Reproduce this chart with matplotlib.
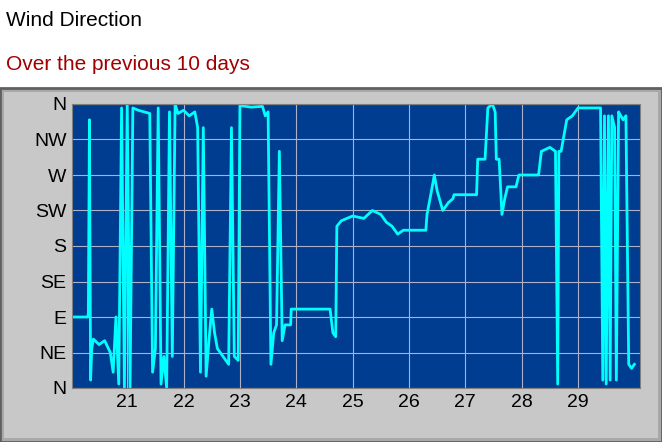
import matplotlib
matplotlib.use('Agg')
import matplotlib.pyplot as plt
from matplotlib.patches import Rectangle

plt.rcParams['font.family'] = ['Liberation Sans', 'DejaVu Sans']

# time in days, direction in degrees
days = [20.02, 20.30, 20.31, 20.33, 20.35, 20.37, 20.40, 20.50, 20.60, 20.70, 20.75, 20.80, 20.85,
        20.90, 20.95, 21.00, 21.05, 21.10, 21.20, 21.30, 21.40, 21.45, 21.50, 21.55, 21.60, 21.65,
        21.70, 21.75, 21.80, 21.85, 21.90, 22.00, 22.10, 22.20, 22.25, 22.30, 22.35, 22.40, 22.45,
        22.50, 22.55, 22.60, 22.70, 22.80, 22.85, 22.90, 22.97, 23.00, 23.20, 23.40, 23.45, 23.50,
        23.55, 23.60, 23.65, 23.70, 23.75, 23.80, 23.90, 23.91, 24.60, 24.65, 24.70, 24.72, 24.80,
        25.00, 25.20, 25.35, 25.50, 25.60, 25.70, 25.80, 25.90, 26.00, 26.30, 26.32, 26.40, 26.45,
        26.50, 26.60, 26.70, 26.78, 26.80, 27.20, 27.22, 27.35, 27.40, 27.48, 27.53, 27.55, 27.60,
        27.65, 27.70, 27.75, 27.90, 27.95, 28.30, 28.35, 28.50, 28.60, 28.64, 28.66, 28.70, 28.80,
        28.90, 29.00, 29.40, 29.44, 29.47, 29.50, 29.54, 29.57, 29.60, 29.65, 29.68, 29.72, 29.76,
        29.80, 29.85, 29.90, 29.95, 30.00]
direction = [90, 90, 95, 340, 10, 50, 62, 55, 60, 45, 20, 90, 5,
             355, 0, 360, 0, 355, 352, 350, 348, 20, 50, 355, 5, 40,
             0, 350, 40, 360, 348, 352, 345, 350, 330, 20, 330, 15, 60,
             100, 70, 50, 40, 30, 330, 40, 35, 358, 356, 357, 345, 350,
             30, 70, 80, 300, 60, 80, 80, 100, 100, 70, 65, 205, 212,
             218, 215, 225, 220, 210, 205, 195, 200, 200, 200, 220, 250, 270,
             250, 225, 235, 240, 245, 245, 290, 290, 355, 360, 350, 290, 290,
             220, 240, 255, 255, 270, 270, 300, 305, 300, 5, 300, 300, 340,
             345, 355, 355, 10, 345, 5, 345, 10, 345, 330, 10, 350, 345,
             340, 345, 30, 25, 30]
ytick_labels = ['N', 'NE', 'E', 'SE', 'S', 'SW', 'W', 'NW', 'N']
xtick_vals = [21, 22, 23, 24, 25, 26, 27, 28, 29]

fig = plt.figure(figsize=(6.62, 4.42), dpi=100)
fig.patch.set_facecolor('white')
# grey panel under the header
fig.patches.append(Rectangle((0, 0), 1, 1 - 88 / 442, transform=fig.transFigure,
                             facecolor='#a8a8a8', edgecolor='#606060', lw=2, zorder=-2))
fig.patches.append(Rectangle((0.006, 0.008), 0.988, 1 - 96 / 442, transform=fig.transFigure,
                             facecolor='#c8c8c8', edgecolor='none', zorder=-1))
fig.text(6 / 662, 1 - 20 / 442, 'Wind Direction', fontsize=15, color='black', va='center')
fig.text(6 / 662, 1 - 65 / 442, 'Over the previous 10 days', fontsize=15, color='#a00000', va='center')

ax = fig.add_axes([72 / 662, 54 / 442, 568 / 662, 284 / 442])
ax.set_facecolor('#003C8F')
ax.plot(days, direction, color='#00ffff', lw=2)
ax.set_xlim(20.02, 30.1)
ax.set_ylim(0, 360)
ax.set_yticks(range(0, 361, 45))
ax.set_yticklabels(ytick_labels, fontsize=14)
ax.set_xticks(xtick_vals)
ax.set_xticklabels([str(v) for v in xtick_vals], fontsize=14)
ax.grid(True, color='#b0b0c8', lw=0.8)
ax.set_axisbelow(True)
ax.tick_params(length=0, pad=4)
for s in ax.spines.values():
    s.set_color('#808080')

fig.savefig('out.png', dpi=100)
